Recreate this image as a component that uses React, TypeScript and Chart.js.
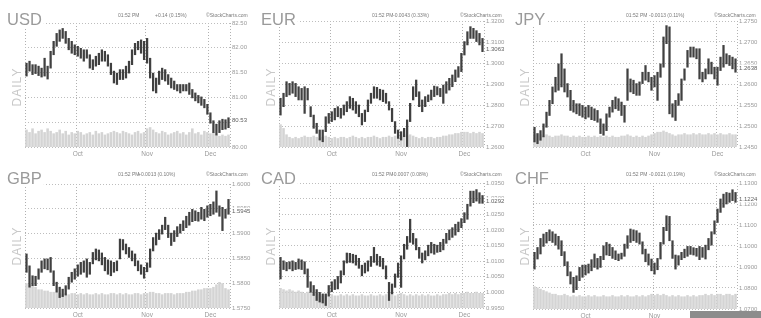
import React, { useEffect, useRef } from "react";
import { Chart, registerables } from "chart.js";
Chart.register(...registerables);

// ---- time axis ----
const monthNames = ["Sep", "Oct", "Nov", "Dec"];
const monthDays = [17, 23, 21, 7];

// ---- USD ----
const usdHigh = [81.69, 81.73, 81.66, 81.66, 81.63, 81.59, 81.79, 81.63, 81.93, 82.13,
  82.29, 82.36, 82.39, 82.33, 82.19, 82.13, 82.06, 82.03, 81.99, 81.96,
  81.96, 81.86, 81.76, 81.83, 81.89, 81.96, 81.93, 81.86, 81.69, 81.53,
  81.49, 81.56, 81.56, 81.63, 81.73, 81.96, 82.09, 82.13, 82.16, 82.13,
  82.19, 81.79, 81.49, 81.39, 81.53, 81.59, 81.56, 81.46, 81.39, 81.33,
  81.26, 81.26, 81.26, 81.26, 81.29, 81.16, 81.09, 81.04, 81.01, 80.96,
  80.86, 80.69, 80.53, 80.46, 80.53, 80.56, 80.55, 80.59];
const usdLow = [81.43, 81.53, 81.46, 81.48, 81.44, 81.41, 81.43, 81.37, 81.59, 81.86,
  82.03, 82.13, 82.19, 82.09, 81.96, 81.89, 81.86, 81.83, 81.79, 81.73,
  81.79, 81.59, 81.56, 81.63, 81.66, 81.73, 81.73, 81.63, 81.46, 81.29,
  81.26, 81.36, 81.36, 81.39, 81.49, 81.66, 81.86, 81.96, 81.89, 81.76,
  81.69, 81.39, 81.13, 81.09, 81.26, 81.36, 81.33, 81.26, 81.19, 81.16,
  81.13, 81.09, 81.13, 81.13, 81.06, 80.99, 80.93, 80.89, 80.84, 80.79,
  80.66, 80.48, 80.29, 80.24, 80.29, 80.35, 80.36, 80.39];
const usdVolume = [14, 12, 15, 11, 13, 14, 12, 15, 13, 11, 12, 14, 11, 13, 10, 12, 11, 13, 12, 10,
  11, 12, 10, 13, 11, 12, 10, 11, 12, 13, 12, 11, 13, 12, 11, 10, 12, 13, 11, 12,
  15, 16, 14, 12, 11, 13, 12, 10, 11, 12, 13, 11, 12, 10, 12, 15, 11, 12, 10, 13,
  12, 11, 12, 10, 9, 10, 9, 10];
const usdTicks = [80.0, 80.5, 81.0, 81.5, 82.0, 82.5];

// ---- EUR ----
const eurHigh = [1.2832, 1.2856, 1.2911, 1.2903, 1.2911, 1.2903, 1.2887, 1.2879, 1.2887, 1.2879,
  1.2792, 1.2752, 1.2713, 1.2681, 1.2681, 1.2744, 1.2760, 1.2768, 1.2784, 1.2792,
  1.2784, 1.2800, 1.2816, 1.2840, 1.2832, 1.2816, 1.2800, 1.2760, 1.2776, 1.2824,
  1.2856, 1.2887, 1.2884, 1.2875, 1.2871, 1.2856, 1.2816, 1.2784, 1.2721, 1.2681,
  1.2673, 1.2689, 1.2729, 1.2808, 1.2887, 1.2919, 1.2863, 1.2824, 1.2840, 1.2848,
  1.2871, 1.2890, 1.2887, 1.2879, 1.2895, 1.2911, 1.2927, 1.2943, 1.2967, 1.2983,
  1.3046, 1.3102, 1.3149, 1.3173, 1.3165, 1.3154, 1.3141, 1.3117];
const eurLow = [1.2752, 1.2792, 1.2840, 1.2848, 1.2856, 1.2840, 1.2824, 1.2824, 1.2760, 1.2824,
  1.2744, 1.2689, 1.2665, 1.2633, 1.2625, 1.2673, 1.2713, 1.2721, 1.2729, 1.2744,
  1.2737, 1.2752, 1.2768, 1.2784, 1.2776, 1.2760, 1.2744, 1.2705, 1.2721, 1.2768,
  1.2808, 1.2832, 1.2832, 1.2824, 1.2816, 1.2808, 1.2776, 1.2721, 1.2665, 1.2641,
  1.2633, 1.2649, 1.2602, 1.2721, 1.2824, 1.2840, 1.2792, 1.2768, 1.2792, 1.2816,
  1.2824, 1.2840, 1.2848, 1.2840, 1.2808, 1.2856, 1.2871, 1.2887, 1.2911, 1.2932,
  1.2959, 1.3038, 1.3086, 1.3117, 1.3117, 1.3102, 1.3086, 1.3054];
const eurVolume = [18, 15, 10, 8, 7, 8, 7, 8, 9, 8, 8, 9, 8, 7, 8, 9, 8, 7, 8, 7,
  8, 8, 7, 8, 9, 8, 7, 8, 7, 8, 8, 9, 8, 7, 8, 8, 9, 8, 9, 10,
  9, 10, 9, 10, 9, 8, 7, 8, 7, 8, 8, 7, 8, 8, 9, 9, 10, 10, 11, 11,
  12, 12, 12, 11, 12, 11, 12, 11];
const eurTicks = [1.26, 1.27, 1.28, 1.29, 1.30, 1.31, 1.32];

// ---- JPY ----
const jpyHigh = [1.2497, 1.2482, 1.2489, 1.2505, 1.2533, 1.2561, 1.2593, 1.2616, 1.2648, 1.2672,
  1.2636, 1.2601, 1.2585, 1.2561, 1.2553, 1.2553, 1.2549, 1.2545, 1.2549, 1.2545,
  1.2541, 1.2537, 1.2517, 1.2505, 1.2529, 1.2545, 1.2561, 1.2569, 1.2565, 1.2557,
  1.2549, 1.2636, 1.2612, 1.2609, 1.2601, 1.2605, 1.2628, 1.2644, 1.2628, 1.2616,
  1.2620, 1.2628, 1.2648, 1.2712, 1.2739, 1.2736, 1.2553, 1.2561, 1.2577, 1.2612,
  1.2636, 1.2680, 1.2688, 1.2688, 1.2684, 1.2684, 1.2628, 1.2636, 1.2660, 1.2652,
  1.2640, 1.2640, 1.2664, 1.2692, 1.2672, 1.2668, 1.2664, 1.2660];
const jpyLow = [1.2462, 1.2458, 1.2466, 1.2474, 1.2497, 1.2525, 1.2553, 1.2581, 1.2585, 1.2593,
  1.2581, 1.2569, 1.2537, 1.2533, 1.2529, 1.2525, 1.2521, 1.2517, 1.2521, 1.2515,
  1.2513, 1.2509, 1.2482, 1.2478, 1.2489, 1.2521, 1.2533, 1.2541, 1.2537, 1.2525,
  1.2509, 1.2561, 1.2581, 1.2577, 1.2573, 1.2573, 1.2601, 1.2609, 1.2605, 1.2585,
  1.2593, 1.2561, 1.2616, 1.2640, 1.2696, 1.2529, 1.2521, 1.2513, 1.2549, 1.2561,
  1.2609, 1.2640, 1.2664, 1.2664, 1.2660, 1.2612, 1.2605, 1.2612, 1.2624, 1.2624,
  1.2612, 1.2597, 1.2632, 1.2640, 1.2648, 1.2644, 1.2636, 1.2628];
const jpyVolume = [10, 11, 10, 9, 10, 9, 8, 9, 9, 10, 9, 9, 8, 9, 8, 9, 8, 8, 9, 8,
  9, 8, 9, 8, 9, 8, 9, 8, 8, 9, 9, 10, 9, 8, 9, 8, 9, 8, 9, 10,
  11, 12, 12, 13, 12, 11, 10, 9, 10, 10, 11, 10, 10, 11, 10, 11, 10, 10, 11, 10,
  11, 10, 11, 10, 10, 11, 10, 10];
const jpyTicks = [1.2450, 1.2500, 1.2550, 1.2600, 1.2650, 1.2700, 1.2750];

// ---- GBP ----
const gbpHigh = [1.5859, 1.5835, 1.5815, 1.5814, 1.5829, 1.5845, 1.5849, 1.5849, 1.5852, 1.5825,
  1.5802, 1.5792, 1.5788, 1.5795, 1.5812, 1.5822, 1.5829, 1.5837, 1.5842, 1.5845,
  1.5849, 1.5842, 1.5862, 1.5869, 1.5867, 1.5861, 1.5852, 1.5847, 1.5845, 1.5842,
  1.5845, 1.5889, 1.5888, 1.5879, 1.5872, 1.5865, 1.5859, 1.5845, 1.5837, 1.5832,
  1.5841, 1.5869, 1.5892, 1.5901, 1.5908, 1.5917, 1.5933, 1.5917, 1.5901, 1.5906,
  1.5914, 1.5919, 1.5926, 1.5935, 1.5943, 1.5949, 1.5946, 1.5943, 1.5953, 1.5949,
  1.5956, 1.5959, 1.5964, 1.5986, 1.5956, 1.5953, 1.5949, 1.5969];
const gbpLow = [1.5822, 1.5792, 1.5795, 1.5795, 1.5808, 1.5822, 1.5829, 1.5827, 1.5822, 1.5795,
  1.5782, 1.5771, 1.5773, 1.5776, 1.5788, 1.5802, 1.5808, 1.5814, 1.5818, 1.5822,
  1.5812, 1.5818, 1.5839, 1.5847, 1.5845, 1.5837, 1.5825, 1.5818, 1.5815, 1.5822,
  1.5825, 1.5849, 1.5867, 1.5859, 1.5852, 1.5845, 1.5835, 1.5825, 1.5818, 1.5810,
  1.5823, 1.5832, 1.5865, 1.5877, 1.5888, 1.5899, 1.5908, 1.5892, 1.5876, 1.5884,
  1.5894, 1.5901, 1.5906, 1.5912, 1.5917, 1.5924, 1.5926, 1.5925, 1.5929, 1.5926,
  1.5933, 1.5936, 1.5939, 1.5943, 1.5935, 1.5906, 1.5931, 1.5939];
const gbpVolume = [20, 19, 18, 17, 15, 15, 14, 14, 13, 13, 13, 12, 11, 12, 11, 12, 12, 11, 12, 11,
  12, 11, 11, 12, 11, 12, 11, 11, 12, 12, 11, 12, 11, 12, 11, 11, 12, 12, 11, 12,
  12, 13, 13, 12, 12, 11, 12, 12, 12, 11, 12, 12, 12, 13, 13, 14, 14, 15, 15, 16,
  16, 16, 17, 19, 21, 20, 16, 15];
const gbpTicks = [1.5750, 1.5800, 1.5850, 1.5900, 1.5950, 1.6000];

// ---- CAD ----
const cadHigh = [1.0112, 1.0101, 1.0096, 1.0098, 1.0101, 1.0096, 1.0107, 1.0104, 1.0098, 1.0075,
  1.0034, 1.0022, 1.0009, 1.0000, 0.9995, 0.9995, 1.0022, 1.0034, 1.0041, 1.0051,
  1.0069, 1.0101, 1.0126, 1.0125, 1.0122, 1.0119, 1.0109, 1.0087, 1.0094, 1.0101,
  1.0115, 1.0144, 1.0122, 1.0115, 1.0109, 1.0085, 1.0032, 1.0027, 1.0059, 1.0094,
  1.0117, 1.0154, 1.0179, 1.0234, 1.0189, 1.0172, 1.0144, 1.0126, 1.0133, 1.0151,
  1.0160, 1.0154, 1.0151, 1.0160, 1.0170, 1.0189, 1.0200, 1.0207, 1.0218, 1.0225,
  1.0236, 1.0255, 1.0282, 1.0324, 1.0324, 1.0329, 1.0319, 1.0310];
const cadLow = [1.0043, 1.0073, 1.0069, 1.0075, 1.0069, 1.0073, 1.0075, 1.0073, 1.0059, 1.0016,
  1.0000, 0.9990, 0.9974, 0.9969, 0.9966, 0.9958, 0.9988, 1.0002, 1.0009, 1.0011,
  1.0030, 1.0056, 1.0094, 1.0096, 1.0094, 1.0087, 1.0077, 1.0053, 1.0062, 1.0068,
  1.0083, 1.0096, 1.0087, 1.0083, 1.0075, 1.0043, 0.9974, 0.9995, 1.0016, 1.0048,
  1.0016, 1.0107, 1.0138, 1.0160, 1.0154, 1.0136, 1.0109, 1.0094, 1.0104, 1.0117,
  1.0126, 1.0122, 1.0128, 1.0130, 1.0136, 1.0157, 1.0168, 1.0176, 1.0183, 1.0194,
  1.0207, 1.0223, 1.0234, 1.0276, 1.0287, 1.0292, 1.0285, 1.0285];
const cadVolume = [16, 15, 14, 15, 14, 13, 14, 13, 12, 13, 12, 11, 12, 11, 10, 11, 10, 11, 10, 10,
  11, 10, 11, 10, 11, 10, 10, 11, 10, 10, 11, 10, 10, 11, 10, 11, 12, 11, 10, 11,
  12, 11, 10, 11, 10, 11, 10, 11, 10, 11, 10, 10, 11, 10, 11, 11, 12, 11, 12, 11,
  12, 12, 13, 12, 12, 13, 12, 12];
const cadTicks = [0.9950, 1.0000, 1.0050, 1.0100, 1.0150, 1.0200, 1.0250, 1.0300, 1.0350];

// ---- CHF ----
const chfHigh = [1.0970, 1.0993, 1.1036, 1.1057, 1.1065, 1.1077, 1.1068, 1.1057, 1.1046, 1.1025,
  1.0973, 1.0925, 1.0877, 1.0851, 1.0858, 1.0898, 1.0909, 1.0909, 1.0914, 1.0935,
  1.0962, 1.0941, 1.0951, 1.1001, 1.1017, 1.1009, 1.0993, 1.0977, 1.0962, 1.0966,
  1.1009, 1.1049, 1.1081, 1.1077, 1.1073, 1.1062, 1.1020, 1.0985, 1.0962, 1.0938,
  1.0919, 1.0941, 1.1017, 1.1089, 1.1144, 1.1141, 1.1025, 1.0957, 1.0954, 1.0970,
  1.0985, 1.0998, 1.0998, 1.0992, 1.0989, 1.0998, 1.0993, 1.1004, 1.1036, 1.1068,
  1.1120, 1.1176, 1.1224, 1.1247, 1.1255, 1.1252, 1.1268, 1.1255];
const chfLow = [1.0890, 1.0938, 1.0962, 1.0998, 1.1014, 1.1025, 1.1017, 1.1004, 1.0985, 1.0954,
  1.0906, 1.0858, 1.0819, 1.0779, 1.0792, 1.0835, 1.0851, 1.0862, 1.0871, 1.0882,
  1.0898, 1.0890, 1.0898, 1.0935, 1.0957, 1.0954, 1.0941, 1.0935, 1.0930, 1.0938,
  1.0951, 1.0989, 1.1017, 1.1025, 1.1017, 1.1009, 1.0962, 1.0925, 1.0909, 1.0882,
  1.0866, 1.0887, 1.0938, 1.1009, 1.1073, 1.1025, 1.0941, 1.0890, 1.0909, 1.0935,
  1.0944, 1.0951, 1.0960, 1.0957, 1.0951, 1.0935, 1.0946, 1.0938, 1.0982, 1.1004,
  1.1057, 1.1112, 1.1160, 1.1184, 1.1200, 1.1208, 1.1216, 1.1208];
const chfVolume = [18, 17, 16, 15, 14, 13, 12, 12, 11, 11, 12, 11, 10, 11, 10, 11, 10, 10, 11, 10,
  11, 10, 10, 11, 10, 10, 11, 10, 10, 11, 10, 11, 10, 10, 11, 10, 11, 10, 11, 12,
  11, 12, 11, 12, 11, 10, 11, 10, 11, 10, 10, 11, 10, 11, 10, 11, 11, 12, 11, 12,
  11, 12, 12, 11, 12, 12, 11, 12];
const chfTicks = [1.07, 1.08, 1.09, 1.10, 1.11, 1.12, 1.13];

// ---- header texts ----
const panelNames = ["USD", "EUR", "JPY", "GBP", "CAD", "CHF"];
const updateTimes = ["01:52 PM", "01:52 PM", "01:52 PM", "01:52 PM", "01:52 PM", "01:52 PM"];
const changeTexts = ["+0.14 (0.15%)", "-0.0043 (0.33%)", "-0.0013 (0.11%)", "+0.0013 (0.10%)", "-0.0007 (0.08%)", "-0.0021 (0.19%)"];
const lastPrices = [80.53, 1.3063, 1.2638, 1.5945, 1.0292, 1.1224];
const sourceText = "©StockCharts.com";
const periodText = "DAILY";

const FONT = '"Liberation Sans", Arial, sans-serif';

function buildDays() {
  const labels: string[] = [];
  const starts: number[] = [];
  const monthLabel: string[] = [];
  monthNames.forEach((m, mi) => {
    starts.push(labels.length);
    for (let d = 0; d < monthDays[mi]; d++) {
      labels.push(m + "-" + (d + 1));
      monthLabel.push(d === 0 && mi > 0 ? m : "");
    }
  });
  return { labels, starts, monthLabel };
}
const DAYS = buildDays();

type PanelCfg = {
  name: string; time: string; change: string; last: number;
  high: number[]; low: number[]; volume: number[]; ticks: number[]; dec: number;
  x: number; y: number; w: number; plotTop: number; xAxisH: number; changeX: number;
};

const panels: PanelCfg[] = [
  { name: panelNames[0], time: updateTimes[0], change: changeTexts[0], last: lastPrices[0], high: usdHigh, low: usdLow, volume: usdVolume, ticks: usdTicks, dec: 2, x: 0, y: 0, w: 254, plotTop: 23, xAxisH: 12, changeX: 155 },
  { name: panelNames[1], time: updateTimes[1], change: changeTexts[1], last: lastPrices[1], high: eurHigh, low: eurLow, volume: eurVolume, ticks: eurTicks, dec: 4, x: 254, y: 0, w: 254, plotTop: 21, xAxisH: 12, changeX: 139 },
  { name: panelNames[2], time: updateTimes[2], change: changeTexts[2], last: lastPrices[2], high: jpyHigh, low: jpyLow, volume: jpyVolume, ticks: jpyTicks, dec: 4, x: 508, y: 0, w: 253, plotTop: 21, xAxisH: 12, changeX: 141 },
  { name: panelNames[3], time: updateTimes[3], change: changeTexts[3], last: lastPrices[3], high: gbpHigh, low: gbpLow, volume: gbpVolume, ticks: gbpTicks, dec: 4, x: 0, y: 159, w: 254, plotTop: 25, xAxisH: 10, changeX: 138 },
  { name: panelNames[4], time: updateTimes[4], change: changeTexts[4], last: lastPrices[4], high: cadHigh, low: cadLow, volume: cadVolume, ticks: cadTicks, dec: 4, x: 254, y: 159, w: 254, plotTop: 24, xAxisH: 10, changeX: 138 },
  { name: panelNames[5], time: updateTimes[5], change: changeTexts[5], last: lastPrices[5], high: chfHigh, low: chfLow, volume: chfVolume, ticks: chfTicks, dec: 4, x: 508, y: 159, w: 253, plotTop: 24, xAxisH: 9, changeX: 141 },
];

function Panel({ cfg }: { cfg: PanelCfg }) {
  const ref = useRef<HTMLCanvasElement>(null);
  useEffect(() => {
    const canvas = ref.current;
    if (!canvas) return;
    const { labels, starts, monthLabel } = DAYS;
    const overlay = {
      id: "overlay" + cfg.name,
      afterDraw(chart: any) {
        const { ctx, chartArea } = chart;
        const { right, top, bottom } = chartArea;
        ctx.save();
        // right frame
        ctx.strokeStyle = "#b2b2b2";
        ctx.lineWidth = 1;
        ctx.setLineDash([1, 2]);
        ctx.beginPath();
        ctx.moveTo(Math.round(right) + 0.5, top);
        ctx.lineTo(Math.round(right) + 0.5, bottom);
        ctx.stroke();
        ctx.setLineDash([]);
        // title
        ctx.font = "16.5px " + FONT;
        const tw = ctx.measureText(cfg.name).width;
        ctx.fillStyle = "#ffffff";
        ctx.fillRect(5, 10, tw + 4, 17);
        ctx.fillStyle = "#9a9a9a";
        ctx.textAlign = "left";
        ctx.textBaseline = "alphabetic";
        ctx.fillText(cfg.name, 7, 25);
        // header
        ctx.font = "5px " + FONT;
        ctx.fillStyle = "#7a7a7a";
        ctx.fillText(cfg.time, 118, 17);
        ctx.fillText(cfg.change, cfg.changeX, 17);
        ctx.fillText(sourceText, 206, 17);
        // period text
        ctx.save();
        ctx.translate(18, 87);
        ctx.rotate(-Math.PI / 2);
        ctx.font = "12px " + FONT;
        (ctx as any).letterSpacing = "1px";
        ctx.fillStyle = "#c8c8c8";
        ctx.textAlign = "center";
        ctx.textBaseline = "middle";
        ctx.fillText(periodText, 0, 0);
        ctx.restore();
        // last price label
        const yy = chart.scales.y.getPixelForValue(cfg.last);
        ctx.fillStyle = "#ffffff";
        ctx.fillRect(right + 1, yy - 3.5, 23, 7);
        ctx.fillStyle = "#606060";
        ctx.font = "6px " + FONT;
        ctx.textAlign = "left";
        ctx.textBaseline = "middle";
        ctx.fillText(cfg.last.toFixed(cfg.dec), right + 2, yy);
        ctx.restore();
      },
    };
    const chart = new Chart(canvas, {
      type: "bar",
      data: {
        labels,
        datasets: [
          {
            label: "volume",
            data: cfg.volume,
            yAxisID: "v",
            backgroundColor: "#d4d4d4",
            barPercentage: 1,
            categoryPercentage: 0.85,
            grouped: false,
            order: 2,
          } as any,
          {
            label: "range",
            data: cfg.high.map((h, i) => [cfg.low[i], h]),
            yAxisID: "y",
            backgroundColor: "#404040",
            barThickness: 1.6,
            grouped: false,
            order: 1,
          } as any,
        ],
      },
      options: {
        animation: false,
        responsive: false,
        maintainAspectRatio: false,
        devicePixelRatio: 1,
        events: [],
        layout: { padding: { left: 25, top: cfg.plotTop, right: 0, bottom: 0 } },
        plugins: { legend: { display: false }, tooltip: { enabled: false }, title: { display: false } },
        scales: {
          x: {
            type: "category",
            offset: true,
            grid: {
              offset: true,
              drawTicks: false,
              lineWidth: 1,
              color: (c: any) => (starts.includes(c.index) ? "#b0b0b0" : "rgba(0,0,0,0)"),
            },
            border: { display: false, dash: [1, 2] },
            ticks: {
              autoSkip: false,
              maxRotation: 0,
              minRotation: 0,
              padding: 3,
              color: "#9a9a9a",
              font: { size: 6.5, family: FONT },
              callback: (_v: any, i: number) => monthLabel[i],
            },
            afterFit: (s: any) => { s.height = cfg.xAxisH; },
          } as any,
          y: {
            position: "right",
            min: cfg.ticks[0],
            max: cfg.ticks[cfg.ticks.length - 1],
            grid: { drawTicks: false, color: "#bdbdbd", lineWidth: 1 },
            border: { display: false, dash: [1, 2] },
            ticks: {
              padding: 2,
              color: "#9a9a9a",
              autoSkip: false,
              font: { size: 6, family: FONT },
              callback: (v: any) => Number(v).toFixed(cfg.dec),
            },
            afterBuildTicks: (s: any) => { s.ticks = cfg.ticks.map((v) => ({ value: v })); },
            afterFit: (s: any) => { s.width = 24; },
          } as any,
          v: { display: false, min: 0, max: 100 } as any,
        },
      },
      plugins: [overlay],
    });
    return () => chart.destroy();
  }, [cfg]);
  return (
    <canvas
      ref={ref}
      width={cfg.w}
      height={159}
      style={{ position: "absolute", left: cfg.x, top: cfg.y, width: cfg.w, height: 159, display: "block" }}
    />
  );
}

export default function App() {
  useEffect(() => {
    document.body.style.margin = "0";
    document.body.style.background = "#ffffff";
  }, []);
  return (
    <div style={{ position: "relative", width: 761, height: 318, overflow: "hidden", background: "#ffffff" }}>
      {panels.map((p) => (
        <Panel key={p.name} cfg={p} />
      ))}
      <div style={{ position: "absolute", left: 690, top: 311, width: 71, height: 7, background: "#8c8c8c" }} />
    </div>
  );
}
